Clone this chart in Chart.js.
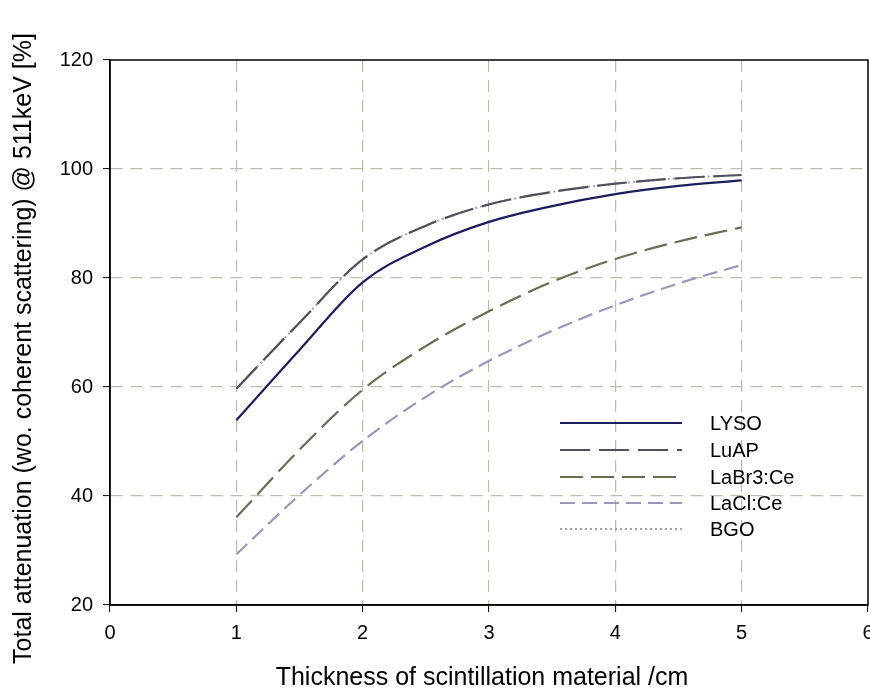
<!DOCTYPE html>
<html>
<head>
<meta charset="utf-8">
<script src="https://cdn.jsdelivr.net/npm/chart.js@4"></script>
<style>
html,body{margin:0;padding:0;background:#fff;}
#wrap{width:870px;height:693px;}
</style>
</head>
<body>
<div id="wrap"><canvas id="c" width="870" height="693"></canvas></div>
<script>
const thickness = [1, 1.5, 2, 2.5, 3, 3.5, 4, 4.5, 5];
const lyso  = [53.9, 66.8, 79.2, 85.8, 90.3, 93.2, 95.4, 96.9, 97.9];
const luap  = [59.7, 71.8, 83.4, 89.6, 93.5, 95.8, 97.3, 98.3, 98.9];
const labr  = [36.1, 48.5, 59.5, 67.5, 73.9, 79.3, 83.5, 86.7, 89.3];
const lacl  = [29.3, 40.2, 50.1, 58.2, 64.8, 70.3, 75.0, 79.0, 82.4];
const bgo   = [59.7, 71.8, 83.4, 89.6, 93.5, 95.8, 97.3, 98.3, 98.9];
const xTicks = [0, 1, 2, 3, 4, 5, 6];
const yTicks = [20, 40, 60, 80, 100, 120];
const seriesNames = ['LYSO', 'LuAP', 'LaBr3:Ce', 'LaCl:Ce', 'BGO'];

const FONT = '"Liberation Sans", Arial, sans-serif';
const pts = arr => thickness.map((t, i) => ({x: t, y: arr[i]}));

const styles = {
  'LYSO':     {color: '#1d1d5e', dash: [],      width: 2.2},
  'LuAP':     {color: '#4f4f5e', dash: [30, 9], width: 2.2},
  'LaBr3:Ce': {color: '#6c6c52', dash: [23, 8], width: 2.2},
  'LaCl:Ce':  {color: '#9997bb', dash: [15, 7], width: 2.2},
  'BGO':      {color: '#a2a2a2', dash: [2, 3],  width: 2}
};
const seriesData = {'LYSO': lyso, 'LuAP': luap, 'LaBr3:Ce': labr, 'LaCl:Ce': lacl, 'BGO': bgo};

const datasets = seriesNames.map(n => ({
  label: n,
  data: pts(seriesData[n]),
  borderColor: styles[n].color,
  borderDash: styles[n].dash,
  borderWidth: styles[n].width,
  pointRadius: 0,
  fill: false,
  cubicInterpolationMode: 'monotone'
}));

const framePlugin = {
  id: 'frame',
  afterDatasetsDraw(chart) {
    const {ctx, chartArea: a} = chart;
    ctx.save();
    ctx.strokeStyle = '#000';
    ctx.lineWidth = 1.5;
    ctx.setLineDash([]);
    ctx.strokeRect(a.left, a.top, a.right - a.left, a.bottom - a.top);
    ctx.restore();
  }
};

// shift axis titles slightly (the reference's titles are not exactly centred)
const titleShift = {x: {dx: -7, dy: 0}, y: {dx: 0, dy: 16}};
const titleShiftPlugin = {
  id: 'titleShift',
  beforeDraw(chart) {
    Object.keys(titleShift).forEach(id => {
      const sc = chart.scales[id];
      if (!sc || sc._shiftPatched) return;
      const orig = sc.drawTitle;
      sc.drawTitle = function () {
        const c = this.ctx;
        c.save();
        c.translate(titleShift[id].dx, titleShift[id].dy);
        orig.apply(this, arguments);
        c.restore();
      };
      sc._shiftPatched = true;
    });
  }
};

const legendPlugin = {
  id: 'innerLegend',
  afterDraw(chart) {
    const {ctx} = chart;
    const x0 = 560, x1 = 682, tx = 710;
    const rows = [423, 450, 477, 503, 529];
    ctx.save();
    seriesNames.forEach((n, i) => {
      const s = styles[n];
      const y = rows[i];
      ctx.beginPath();
      ctx.strokeStyle = s.color;
      ctx.lineWidth = s.width;
      ctx.setLineDash(s.dash);
      ctx.moveTo(x0, y);
      ctx.lineTo(x1, y);
      ctx.stroke();
      ctx.setLineDash([]);
      ctx.fillStyle = '#000';
      ctx.font = '20px ' + FONT;
      ctx.textBaseline = 'middle';
      ctx.textAlign = 'left';
      ctx.fillText(n, tx, y + 1);
    });
    ctx.restore();
  }
};

const gridColor = (edges) => (c) => (edges.includes(c.tick && c.tick.value) ? 'rgba(0,0,0,0)' : '#bcbcae');

new Chart(document.getElementById('c'), {
  type: 'line',
  data: {datasets},
  options: {
    responsive: false,
    animation: false,
    devicePixelRatio: 1,
    layout: {padding: {top: 60, right: 2, left: 0, bottom: 0}},
    plugins: {legend: {display: false}, tooltip: {enabled: false}},
    scales: {
      x: {
        type: 'linear',
        min: xTicks[0], max: xTicks[xTicks.length - 1],
        afterBuildTicks: s => { s.ticks = xTicks.map(v => ({value: v})); },
        afterFit: s => { s.height = 88; s.paddingLeft = 0; s.paddingRight = 0; },
        grid: {color: gridColor([0, 6]), lineWidth: 1.2, tickColor: '#000', tickLength: 7, tickWidth: 1},
        border: {display: true, color: '#000', width: 1.5, dash: [12, 8]},
        ticks: {color: '#000', font: {family: FONT, size: 20}, padding: 9, maxRotation: 0},
        title: {display: true, text: 'Thickness of scintillation material /cm', color: '#000',
                font: {family: FONT, size: 25}, padding: {top: 0, bottom: 0}}
      },
      y: {
        type: 'linear',
        min: yTicks[0], max: yTicks[yTicks.length - 1],
        afterBuildTicks: s => { s.ticks = yTicks.map(v => ({value: v})); },
        afterFit: s => { s.width = 110; s.paddingTop = 0; s.paddingBottom = 0; },
        grid: {color: gridColor([20, 120]), lineWidth: 1.2, tickColor: '#000', tickLength: 7, tickWidth: 1},
        border: {display: true, color: '#000', width: 1.5, dash: [12, 8]},
        ticks: {color: '#000', font: {family: FONT, size: 20}, padding: 10},
        title: {display: true, text: 'Total attenuation (wo. coherent scattering) @ 511keV [%]', color: '#000',
                font: {family: FONT, size: 25}, padding: {top: 9, bottom: 0}}
      }
    }
  },
  plugins: [titleShiftPlugin, framePlugin, legendPlugin]
});
</script>
</body>
</html>
